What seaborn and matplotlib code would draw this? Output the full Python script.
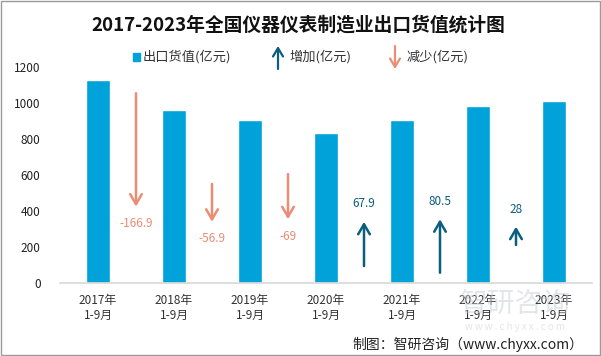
import matplotlib.pyplot as plt
import seaborn as sns
from matplotlib.patches import Rectangle

years = ['2017年\n1-9月', '2018年\n1-9月', '2019年\n1-9月', '2020年\n1-9月',
         '2021年\n1-9月', '2022年\n1-9月', '2023年\n1-9月']
export_value = [1128.0, 961.1, 904.2, 835.2, 903.1, 983.6, 1011.6]
changes = [-166.9, -56.9, -69, 67.9, 80.5, 28]
arrow_tail = [1054, 550, 605, 94, 57, 211]
arrow_head = [424, 340, 354, 340, 354, 313]
label_y = [328, 250, 257, 439, 452, 411]

bar_color = '#00A2DA'
up_color = '#0B5E7E'
down_color = '#EB8C73'

sns.set_theme(style='white')
plt.rcParams['font.family'] = ['Noto Sans CJK SC', 'DejaVu Sans']

fig = plt.figure(figsize=(6.01, 3.56), dpi=100)
ax = fig.add_axes([60 / 601, 1 - 283 / 356, 532 / 601, 216 / 356])

sns.barplot(x=years, y=export_value, color=bar_color, saturation=1, width=0.32, ax=ax)

for i, ch in enumerate(changes):
    c = up_color if ch > 0 else down_color
    x = i + 0.5
    ax.annotate('', xy=(x, arrow_head[i]), xytext=(x, arrow_tail[i]),
                arrowprops=dict(arrowstyle='->,head_length=0.6,head_width=0.35',
                                color=c, lw=1.8, shrinkA=0, shrinkB=0))
    ax.text(x, label_y[i], f'{ch:g}', color=c, fontsize=8.5, ha='center', va='center')

ax.set_ylim(0, 1200)
ax.set_xlim(-0.5, 6.5)
ax.set_yticks(range(0, 1201, 200))
ax.tick_params(axis='y', length=0, pad=14, labelsize=8.5, labelcolor='#222222')
ax.tick_params(axis='x', length=0, pad=8, labelsize=8.5, labelcolor='#333333')
for s in ['left', 'top', 'right']:
    ax.spines[s].set_visible(False)
ax.spines['bottom'].set_color('#d9d9d9')

fig.text(298 / 601, 1 - 25 / 356, '2017-2023年全国仪器仪表制造业出口货值统计图',
         ha='center', va='center', fontsize=13.5, fontweight='bold', color='#111111')

# legend
ly = 1 - 57 / 356
fig.patches.append(Rectangle((133 / 601, 1 - 61 / 356), 7 / 601, 8 / 356,
                             transform=fig.transFigure, color=bar_color))
fig.text(143 / 601, ly, '出口货值(亿元)', fontsize=9.5, va='center', color='#333333')
ax.annotate('', xy=(278 / 601, 1 - 46 / 356), xytext=(278 / 601, 1 - 69 / 356),
            xycoords='figure fraction', textcoords='figure fraction', annotation_clip=False,
            arrowprops=dict(arrowstyle='->,head_length=0.5,head_width=0.3',
                            color=up_color, lw=1.6, shrinkA=0, shrinkB=0))
fig.text(289 / 601, ly, '增加(亿元)', fontsize=9.5, va='center', color='#333333')
ax.annotate('', xy=(395 / 601, 1 - 69 / 356), xytext=(395 / 601, 1 - 46 / 356),
            xycoords='figure fraction', textcoords='figure fraction', annotation_clip=False,
            arrowprops=dict(arrowstyle='->,head_length=0.5,head_width=0.3',
                            color=down_color, lw=1.6, shrinkA=0, shrinkB=0))
fig.text(407 / 601, ly, '减少(亿元)', fontsize=9.5, va='center', color='#333333')

# watermark
fig.text(515 / 601, 1 - 304 / 356, '智研咨询', fontsize=20, ha='center', va='center',
         color='#c9ccd6', alpha=0.5)
fig.text(515 / 601, 1 - 327 / 356, 'w w w . c h y x x . c o m', fontsize=7, ha='center',
         va='center', color='#c9ccd6', alpha=0.5)

fig.text(583 / 601, 1 - 344 / 356, '制图：智研咨询（www.chyxx.com）', fontsize=10,
         ha='right', va='center', color='#222222')

fig.patches.append(Rectangle((0.001, 0.002), 0.997, 0.995, transform=fig.transFigure,
                             fill=False, edgecolor='#9a9a9a', lw=1))

fig.savefig('out.png', dpi=100)
